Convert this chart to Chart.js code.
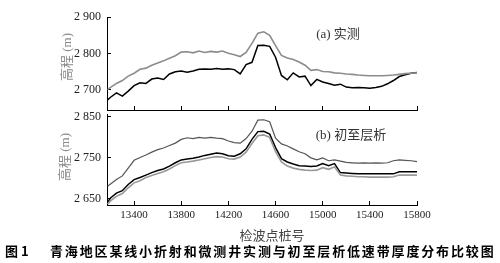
<!DOCTYPE html>
<html>
<head>
<meta charset="utf-8">
<script src="https://cdn.jsdelivr.net/npm/chart.js@4"></script>
<style>
  html, body { margin: 0; padding: 0; background: #fff; }
  #wrap { position: relative; width: 500px; height: 263px; overflow: hidden; }
  canvas { position: absolute; left: 0; top: 0; }
  .txt { position: absolute; white-space: nowrap; font-family: "Liberation Serif", "Noto Sans CJK SC", serif; }
  .c { transform: translate(-50%, -50%); }
  .ytitle { color: #8a8a8a; font-size: 13px; transform: translate(-50%, -50%) rotate(-90deg); }
</style>
</head>
<body>
<div id="wrap">
  <canvas id="top-chart" width="500" height="263"></canvas>
  <canvas id="bottom-chart" width="500" height="263"></canvas>
  <div class="txt ytitle" style="left:65px; top:57px;">高程 (m)</div>
  <div class="txt ytitle" style="left:63px; top:157px;">高程 (m)</div>
  <div class="txt c" style="left:338px; top:32px; font-size:13px; color:#333;">(a) 实测</div>
  <div class="txt c" style="left:351px; top:133px; font-size:13px; color:#333;">(b) 初至层析</div>
  <div class="txt c" style="left:272px; top:234px; font-size:13px; color:#444;">检波点桩号</div>
  <div class="txt" style="left:5px; top:241px; font-size:13px; font-weight:bold; font-family:'Noto Sans CJK SC';">图 1</div>
  <div class="txt" style="left:50px; top:241px; font-size:13px; font-weight:bold; letter-spacing:1.85px; font-family:'Noto Sans CJK SC';">青海地区某线小折射和微测井实测与初至层析低速带厚度分布比较图</div>
</div>
<script>
// station numbers (检波点桩号)
const stations = [13175, 13200, 13250, 13300, 13350, 13400, 13450, 13500, 13550, 13600,
    13650, 13700, 13750, 13800, 13850, 13900, 13950, 14000, 14050, 14100,
    14150, 14200, 14250, 14300, 14350, 14400, 14450, 14500, 14550, 14600,
    14650, 14700, 14750, 14800, 14850, 14900, 14950, 15000, 15050, 15100,
    15150, 15200, 15250, 15300, 15350, 15400, 15450, 15500, 15550, 15600,
    15650, 15700, 15750, 15800];

// (a) 实测 - gray line
const measuredGray = [2701, 2707, 2718, 2726, 2738, 2746, 2757, 2760, 2768, 2774,
    2780, 2787, 2794, 2804, 2805, 2802, 2807, 2803, 2806, 2804,
    2807, 2801, 2797, 2792, 2803, 2828, 2856, 2860, 2850, 2822,
    2795, 2788, 2784, 2777, 2768, 2754, 2756, 2751, 2750, 2747,
    2746, 2744, 2743, 2741, 2740, 2739, 2739, 2739, 2740, 2741,
    2743, 2745, 2746, 2747];

// (a) 实测 - black line
const measuredBlack = [2673, 2680, 2692, 2683, 2697, 2712, 2720, 2718, 2730, 2733,
    2729, 2744, 2750, 2752, 2749, 2752, 2757, 2758, 2757, 2759,
    2757, 2758, 2756, 2744, 2770, 2776, 2822, 2823, 2820, 2790,
    2740, 2728, 2747, 2736, 2738, 2712, 2729, 2722, 2718, 2713,
    2716, 2708, 2706, 2707, 2706, 2705, 2707, 2710, 2717, 2726,
    2737, 2742, 2746, 2748];

// (b) 初至层析 - dark gray (upper)
const tomoUpper = [2681, 2686, 2697, 2706, 2725, 2744, 2751, 2757, 2764, 2770,
    2774, 2780, 2786, 2795, 2799, 2797, 2800, 2798, 2800, 2798,
    2797, 2791, 2787, 2786, 2797, 2815, 2842, 2843, 2838, 2798,
    2784, 2779, 2772, 2765, 2760, 2750, 2745, 2750, 2743, 2745,
    2742, 2739, 2738, 2737, 2738, 2737, 2738, 2737, 2738, 2743,
    2745, 2744, 2743, 2741];

// (b) 初至层析 - black (middle)
const tomoBlack = [2642, 2652, 2664, 2670, 2685, 2697, 2702, 2708, 2714, 2719,
    2723, 2730, 2738, 2745, 2747, 2749, 2752, 2756, 2759, 2762,
    2760, 2755, 2754, 2760, 2772, 2795, 2814, 2815, 2808, 2775,
    2748, 2740, 2735, 2731, 2730, 2729, 2730, 2736, 2731, 2736,
    2714, 2713, 2712, 2711, 2711, 2711, 2711, 2711, 2711, 2711,
    2716, 2716, 2716, 2716];

// (b) 初至层析 - light gray (lower)
const tomoLower = [2637, 2645, 2656, 2663, 2677, 2689, 2694, 2702, 2707, 2712,
    2716, 2723, 2731, 2738, 2740, 2742, 2745, 2748, 2751, 2753,
    2752, 2748, 2747, 2752, 2764, 2785, 2804, 2806, 2800, 2765,
    2740, 2730, 2725, 2722, 2720, 2719, 2720, 2726, 2722, 2728,
    2708, 2706, 2705, 2704, 2704, 2703, 2703, 2703, 2703, 2704,
    2708, 2708, 2708, 2708];

const xTicks = [13400, 13800, 14200, 14600, 15000, 15400, 15800];
const topYTicks = [2700, 2800, 2900];
const bottomYTicks = [2650, 2750, 2850];

const pairs = (ys) => stations.map((x, i) => ({ x: x, y: ys[i] }));
const fmt = (v) => String(v).replace(/(\d)(\d{3})$/, '$1 $2');

const line = (ys, color, width) => ({
    data: pairs(ys),
    borderColor: color,
    borderWidth: width,
    pointRadius: 0,
    tension: 0,
    fill: false
});

const makeOptions = (yMin, yMax, yTicks, showXLabels, pad, xHeight) => ({
    responsive: false,
    animation: false,
    devicePixelRatio: 1,
    layout: { padding: pad },
    plugins: { legend: { display: false }, tooltip: { enabled: false } },
    scales: {
        x: {
            type: 'linear',
            min: 13170,
            max: 15800,
            afterBuildTicks: s => { s.ticks = xTicks.map(v => ({ value: v })); },
            afterFit: s => { s.height = xHeight; },
            border: { color: '#000', width: 1 },
            grid: { drawOnChartArea: false, drawTicks: true, tickLength: -4, color: '#000' },
            ticks: {
                display: showXLabels,
                padding: 8,
                maxRotation: 0,
                color: '#222',
                callback: v => String(v),
                font: { family: 'Liberation Serif', size: 11 }
            }
        },
        y: {
            min: yMin,
            max: yMax,
            afterBuildTicks: s => { s.ticks = yTicks.map(v => ({ value: v })); },
            afterFit: s => { s.width = 107; },
            border: { color: '#000', width: 1 },
            grid: { drawOnChartArea: false, drawTicks: true, tickLength: -4, color: '#000' },
            ticks: {
                padding: 10,
                color: '#222',
                callback: v => fmt(v),
                font: { family: 'Liberation Serif', size: 12 }
            }
        }
    }
});

new Chart(document.getElementById('top-chart'), {
    type: 'line',
    data: {
        datasets: [
            line(measuredGray, '#8c8c8c', 1.6),
            line(measuredBlack, '#000', 1.5)
        ]
    },
    options: makeOptions(2645, 2900, topYTicks, false,
        { left: 0, top: 15, right: 83, bottom: 147 }, 6)
});

new Chart(document.getElementById('bottom-chart'), {
    type: 'line',
    data: {
        datasets: [
            line(tomoUpper, '#555', 1.2),
            line(tomoLower, '#999', 1.6),
            line(tomoBlack, '#000', 1.5)
        ]
    },
    options: makeOptions(2635, 2857, bottomYTicks, true,
        { left: 0, top: 114, right: 83, bottom: 38 }, 20)
});
</script>
</body>
</html>
